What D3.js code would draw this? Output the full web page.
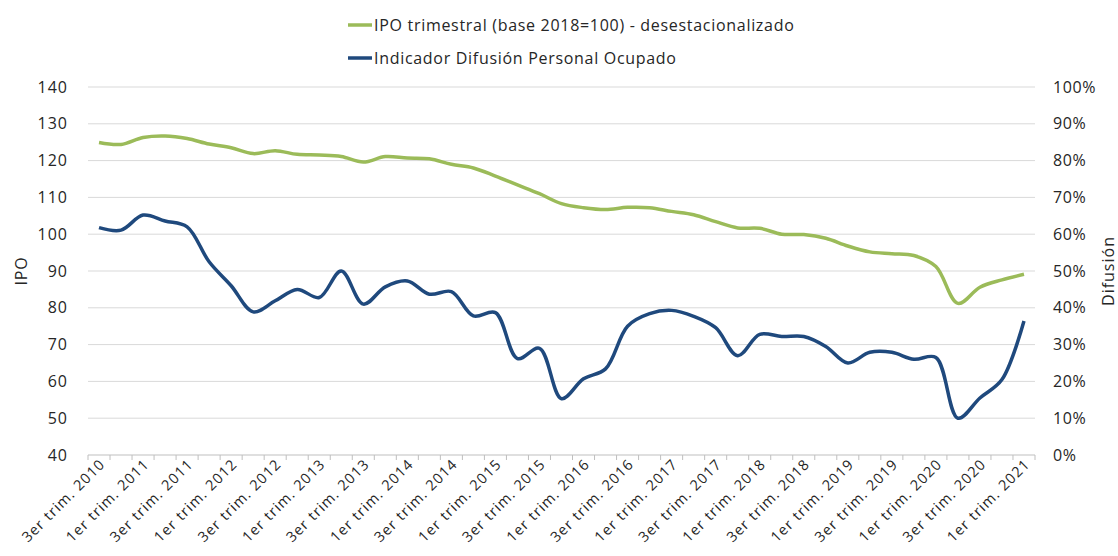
<!DOCTYPE html>
<html>
<head>
<meta charset="utf-8">
<script src="https://cdn.jsdelivr.net/npm/d3@7"></script>
<style>
  body { margin: 0; background: #fff; }
  svg { display: block; font-family: "Open Sans", sans-serif; }
</style>
</head>
<body>
<svg id="chart" width="1118" height="556"></svg>
<script>
"use strict";

const quarters = [
  "2010-T3","2010-T4",
  "2011-T1","2011-T2","2011-T3","2011-T4",
  "2012-T1","2012-T2","2012-T3","2012-T4",
  "2013-T1","2013-T2","2013-T3","2013-T4",
  "2014-T1","2014-T2","2014-T3","2014-T4",
  "2015-T1","2015-T2","2015-T3","2015-T4",
  "2016-T1","2016-T2","2016-T3","2016-T4",
  "2017-T1","2017-T2","2017-T3","2017-T4",
  "2018-T1","2018-T2","2018-T3","2018-T4",
  "2019-T1","2019-T2","2019-T3","2019-T4",
  "2020-T1","2020-T2","2020-T3","2020-T4",
  "2021-T1"
];

// etiquetas del eje x (una cada dos trimestres)
const tickLabels = {
  "2010-T3": "3er trim. 2010", "2011-T1": "1er trim. 2011", "2011-T3": "3er trim. 2011",
  "2012-T1": "1er trim. 2012", "2012-T3": "3er trim. 2012", "2013-T1": "1er trim. 2013",
  "2013-T3": "3er trim. 2013", "2014-T1": "1er trim. 2014", "2014-T3": "3er trim. 2014",
  "2015-T1": "1er trim. 2015", "2015-T3": "3er trim. 2015", "2016-T1": "1er trim. 2016",
  "2016-T3": "3er trim. 2016", "2017-T1": "1er trim. 2017", "2017-T3": "3er trim. 2017",
  "2018-T1": "1er trim. 2018", "2018-T3": "3er trim. 2018", "2019-T1": "1er trim. 2019",
  "2019-T3": "3er trim. 2019", "2020-T1": "1er trim. 2020", "2020-T3": "3er trim. 2020",
  "2021-T1": "1er trim. 2021"
};

// IPO trimestral (base 2018=100) - desestacionalizado
const ipo = [
  124.9, 124.4, 126.3, 126.7, 126.0, 124.5, 123.5, 121.9, 122.7, 121.7,
  121.5, 121.1, 119.6, 121.1, 120.7, 120.5, 119.0, 118.0, 115.8, 113.4,
  111.0, 108.3, 107.2, 106.7, 107.3, 107.2, 106.2, 105.3, 103.4, 101.7,
  101.6, 100.0, 99.9, 98.9, 96.8, 95.2, 94.7, 94.2, 91.2, 81.2,
  85.6, 87.6, 89.1
];

// Indicador Difusión Personal Ocupado (%)
const difusion = [
  61.8, 61.1, 65.2, 63.6, 62.0, 52.5, 46.0, 38.9, 41.9, 45.0,
  42.8, 50.0, 41.0, 45.7, 47.3, 43.7, 44.4, 37.8, 38.7, 26.2,
  29.0, 15.3, 20.7, 23.4, 35.0, 38.4, 39.3, 37.7, 34.6, 27.0,
  32.8, 32.2, 32.2, 29.5, 25.0, 27.9, 27.9, 26.0, 26.5, 10.0,
  15.5, 20.5, 36.4
];

const leftTicks = [40, 50, 60, 70, 80, 90, 100, 110, 120, 130, 140];
const rightTicks = [0, 10, 20, 30, 40, 50, 60, 70, 80, 90, 100];

const green = "#9bbb59";
const blue = "#1f497d";
const textColor = "#262626";

const svg = d3.select("#chart");
const margin = {left: 88, right: 83, top: 87, bottom: 101};
const width = 1118, height = 556;

const x = d3.scaleBand()
    .domain(quarters)
    .range([margin.left, width - margin.right]);
const yL = d3.scaleLinear().domain([40, 140]).range([height - margin.bottom, margin.top]);
const yR = d3.scaleLinear().domain([0, 100]).range([height - margin.bottom, margin.top]);
const cx = q => x(q) + x.bandwidth() / 2;

// grid
svg.append("g")
  .selectAll("line")
  .data(leftTicks)
  .join("line")
    .attr("x1", margin.left)
    .attr("x2", width - margin.right)
    .attr("y1", d => yL(d))
    .attr("y2", d => yL(d))
    .attr("stroke", d => d === 40 ? "#bfbfbf" : "#d9d9d9")
    .attr("stroke-width", 1);

// tick marks between categories
const bounds = quarters.map(q => x(q)).concat([width - margin.right]);
svg.append("g")
  .selectAll("line")
  .data(bounds)
  .join("line")
    .attr("x1", d => d)
    .attr("x2", d => d)
    .attr("y1", yL(40))
    .attr("y2", yL(40) + 5)
    .attr("stroke", "#bfbfbf");

// left axis
const leftAxis = svg.append("g")
    .attr("transform", `translate(${margin.left - 17},0)`)
    .call(d3.axisLeft(yL).tickValues(leftTicks).tickSize(0));
leftAxis.select(".domain").remove();
leftAxis.selectAll("text")
    .attr("font-size", 16)
    .attr("letter-spacing", 1)
    .attr("font-family", "Open Sans, sans-serif")
    .attr("fill", textColor);

// right axis
const rightAxis = svg.append("g")
    .attr("transform", `translate(${width - margin.right + 15},0)`)
    .call(d3.axisRight(yR).tickValues(rightTicks).tickSize(0).tickFormat(d => d + "%"));
rightAxis.select(".domain").remove();
rightAxis.selectAll("text")
    .attr("font-size", 16)
    .attr("letter-spacing", 0.6)
    .attr("font-family", "Open Sans, sans-serif")
    .attr("fill", textColor);

// x labels
svg.append("g")
  .selectAll("text")
  .data(quarters.filter(q => tickLabels[q]))
  .join("text")
    .attr("transform", q => `translate(${cx(q) + 7},${yL(40) + 10}) rotate(-45)`)
    .attr("text-anchor", "end")
    .attr("font-size", 14.5)
    .attr("letter-spacing", 1.1)
    .attr("fill", textColor)
    .text(q => tickLabels[q]);

// axis titles
svg.append("text")
    .attr("transform", `translate(27,${(yL(40) + yL(140)) / 2}) rotate(-90)`)
    .attr("text-anchor", "middle")
    .attr("font-size", 16)
    .attr("letter-spacing", 0.8)
    .attr("fill", textColor)
    .text("IPO");

svg.append("text")
    .attr("transform", `translate(1114,${(yL(40) + yL(140)) / 2}) rotate(-90)`)
    .attr("text-anchor", "middle")
    .attr("font-size", 16)
    .attr("letter-spacing", 1)
    .attr("fill", textColor)
    .text("Difusión");

// lines
const lineL = d3.line()
    .x((d, i) => cx(quarters[i]))
    .y(d => yL(d))
    .curve(d3.curveCatmullRom.alpha(0.5));
const lineR = d3.line()
    .x((d, i) => cx(quarters[i]))
    .y(d => yR(d))
    .curve(d3.curveCatmullRom.alpha(0.5));

svg.append("path")
    .datum(ipo)
    .attr("fill", "none")
    .attr("stroke", green)
    .attr("stroke-width", 3.5)
    .attr("stroke-linejoin", "round")
    .attr("d", lineL);

svg.append("path")
    .datum(difusion)
    .attr("fill", "none")
    .attr("stroke", blue)
    .attr("stroke-width", 3.5)
    .attr("stroke-linejoin", "round")
    .attr("d", lineR);

// legend
const legend = [
  {label: "IPO trimestral (base 2018=100) - desestacionalizado", color: green, y: 25},
  {label: "Indicador Difusión Personal Ocupado", color: blue, y: 58}
];
const lg = svg.append("g");
lg.selectAll("line")
  .data(legend)
  .join("line")
    .attr("x1", 348).attr("x2", 372)
    .attr("y1", d => d.y).attr("y2", d => d.y)
    .attr("stroke", d => d.color)
    .attr("stroke-width", 3.5);
lg.selectAll("text")
  .data(legend)
  .join("text")
    .attr("x", 374)
    .attr("y", d => d.y)
    .attr("dy", "0.35em")
    .attr("font-size", 16)
    .attr("letter-spacing", 0.7)
    .attr("fill", textColor)
    .text(d => d.label);
</script>
</body>
</html>
